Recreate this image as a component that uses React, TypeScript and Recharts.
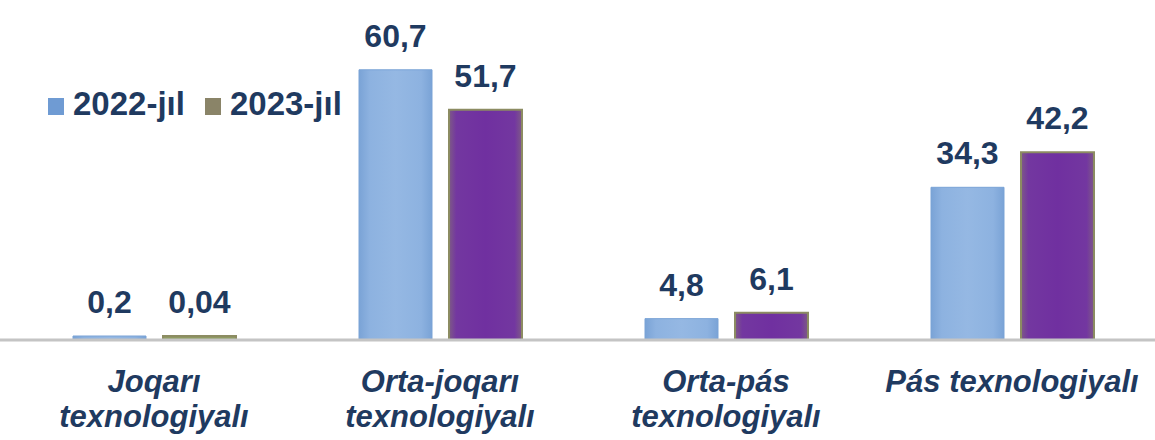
import React from 'react';
import { BarChart, Bar, XAxis, YAxis, LabelList, Cell } from 'recharts';

const categories = ['Joqarı\ntexnologiyalı', 'Orta-joqarı\ntexnologiyalı', 'Orta-pás\ntexnologiyalı', 'Pás texnologiyalı'];
const values2022 = [0.2, 60.7, 4.8, 34.3];
const values2023 = [0.04, 51.7, 6.1, 42.2];
const seriesNames = ['2022-jıl', '2023-jıl'];

const data = categories.map((name, i) => ({ name, y2022: values2022[i], y2023: values2023[i] }));

const FONT = '"Liberation Sans", Arial, sans-serif';
const TEXT = '#1F3A60';

const fmt = (v: number) => String(v).replace('.', ',');

function ValueLabel(props: any) {
  const { x, y, width, value } = props;
  return (
    <text
      x={x + width / 2}
      y={y - 23}
      textAnchor="middle"
      fontFamily={FONT}
      fontWeight="bold"
      fontSize={32}
      fill={TEXT}
    >
      {fmt(value)}
    </text>
  );
}

function CategoryTick(props: any) {
  const { x, y, payload } = props;
  const lines = String(payload.value).split('\n');
  return (
    <text
      x={x}
      y={y}
      textAnchor="middle"
      fontFamily={FONT}
      fontWeight="bold"
      fontStyle="italic"
      fontSize={31}
      fill={TEXT}
    >
      {lines.map((l, i) => (
        <tspan key={i} x={x} y={y + 44 + i * 35}>
          {l}
        </tspan>
      ))}
    </text>
  );
}

// legend is drawn over the chart so it does not push the plot down
function ChartLegend() {
  const items = [
    { label: seriesNames[0], color: '#6F9BD3' },
    { label: seriesNames[1], color: '#8A8468' },
  ];
  return (
    <div style={{ position: 'absolute', left: 48, top: 89, display: 'flex', alignItems: 'flex-end', fontFamily: FONT }}>
      {items.map((it) => (
        <div key={it.label} style={{ display: 'flex', alignItems: 'flex-end', marginRight: 20 }}>
          <span style={{ width: 16, height: 17, background: it.color, marginRight: 9, marginBottom: 4 }} />
          <span style={{ fontSize: 33, fontWeight: 'bold', color: TEXT, lineHeight: '30px' }}>{it.label}</span>
        </div>
      ))}
    </div>
  );
}

export default function App() {
  return (
    <div style={{ position: 'absolute', left: 0, top: 0, width: 1155, height: 440, background: '#fff' }}>
      <BarChart
        width={1155}
        height={440}
        data={data}
        margin={{ top: 64, right: 0, bottom: 0, left: 0 }}
        barSize={73}
        barGap={17}
      >
        <defs>
          <linearGradient id="blueFill" x1="0" y1="0" x2="1" y2="0">
            <stop offset="0%" stopColor="#7AA3D6" />
            <stop offset="15%" stopColor="#8DB2E0" />
            <stop offset="50%" stopColor="#95B8E3" />
            <stop offset="85%" stopColor="#8DB2E0" />
            <stop offset="100%" stopColor="#7AA3D6" />
          </linearGradient>
          <linearGradient id="purpleFill" x1="0" y1="0" x2="1" y2="0">
            <stop offset="0%" stopColor="#7E5A86" />
            <stop offset="10%" stopColor="#7337A0" />
            <stop offset="50%" stopColor="#7030A0" />
            <stop offset="90%" stopColor="#7337A0" />
            <stop offset="100%" stopColor="#7E5A86" />
          </linearGradient>
        </defs>
        <XAxis
          dataKey="name"
          padding={{ left: 11, right: 0 }}
          axisLine={{ stroke: '#C4C4C4', strokeWidth: 3 }}
          tickLine={false}
          tick={<CategoryTick />}
          interval={0}
          height={100}
        />
        <YAxis hide domain={[0, 62]} />
        <Bar dataKey="y2022" name={seriesNames[0]} fill="url(#blueFill)" stroke="#7AA3D6" strokeWidth={1} minPointSize={4} isAnimationActive={false}>
          <LabelList dataKey="y2022" content={<ValueLabel />} />
        </Bar>
        <Bar dataKey="y2023" name={seriesNames[1]} fill="url(#purpleFill)" stroke="#8C8C62" strokeWidth={2} minPointSize={4} isAnimationActive={false}>
          {data.map((d, i) => (
            <Cell key={i} fill={d.y2023 < 1 ? '#8E9A62' : 'url(#purpleFill)'} />
          ))}
          <LabelList dataKey="y2023" content={<ValueLabel />} />
        </Bar>
      </BarChart>
      <ChartLegend />
    </div>
  );
}
